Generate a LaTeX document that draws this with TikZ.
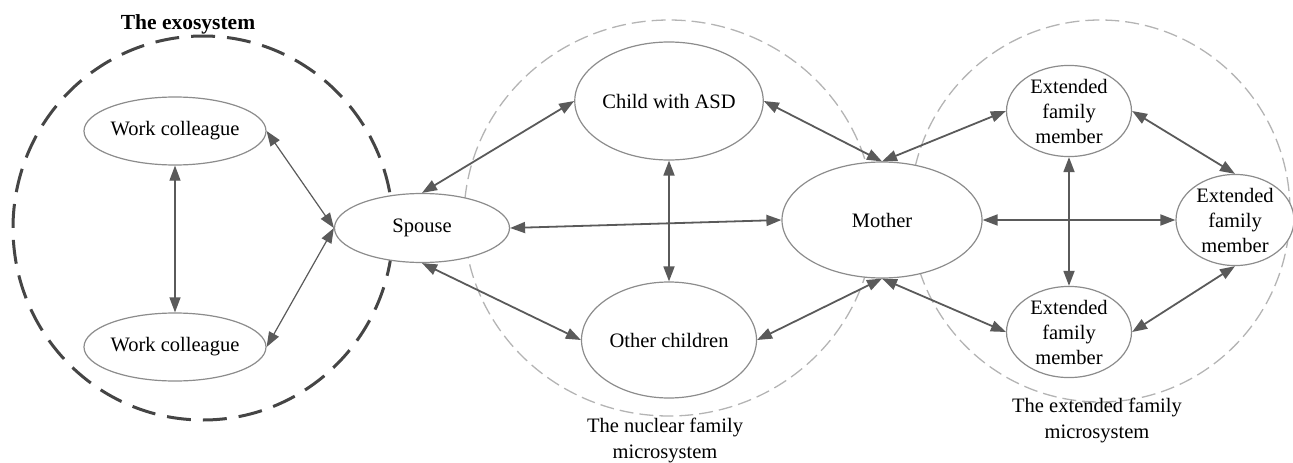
\documentclass[tikz,border=0pt]{standalone}
\usepackage{fontspec}
\setmainfont{Liberation Serif}
\usetikzlibrary{shapes.geometric,arrows.meta}

\definecolor{edgegray}{HTML}{5A5A5A}
\definecolor{ringgray}{HTML}{8C8C8C}
\definecolor{lightring}{HTML}{B4B4B4}
\definecolor{darkring}{HTML}{454545}

\tikzset{
  person/.style={ellipse, draw=ringgray, line width=1.2pt, fill=white,
    inner sep=0pt, align=center, font=\fontsize{20.5}{25}\selectfont},
  link/.style={edgegray, line width=1.8pt,
    {Triangle[length=15pt,width=11pt]}-{Triangle[length=15pt,width=11pt]}},
  thinlink/.style={edgegray, line width=1.2pt,
    {Triangle[length=15pt,width=11pt]}-{Triangle[length=15pt,width=11pt]}},
  systemring/.style={lightring, line width=1.3pt, dash pattern=on 14pt off 6pt},
  exoboundary/.style={darkring, line width=3pt, dash pattern=on 24pt off 12pt},
  caption/.style={align=center, font=\fontsize{20.5}{26}\selectfont}
}

\begin{document}
\begin{tikzpicture}[x=1pt,y=-1pt]
\useasboundingbox (0,0) rectangle (1293,463);

% system boundaries
\draw[exoboundary] (203,228) ellipse [x radius=190pt, y radius=192pt];
\draw[systemring] (669,218) ellipse [x radius=205pt, y radius=198pt];
\draw[systemring] (1100,211) ellipse [x radius=190pt, y radius=191pt];

% people
\node[person, minimum width=176pt, minimum height=68pt] (wc1) at (175,131) {Work colleague};
\node[person, minimum width=176pt, minimum height=68pt] (wc2) at (175,347) {Work colleague};
\node[person, minimum width=175pt, minimum height=69pt] (spouse) at (422,228) {Spouse};
\node[person, minimum width=175pt, minimum height=118pt] (child) at (669,101) {Child with ASD};
\node[person, minimum width=175pt, minimum height=116pt] (other) at (669,340) {Other children};
\node[person, minimum width=200pt, minimum height=116pt] (mother) at (882,220) {Mother};
\node[person, minimum width=125pt, minimum height=82pt] (ext1) at (1069,111) {Extended\\family\\member};
\node[person, minimum width=125pt, minimum height=80pt] (ext2) at (1069,332) {Extended\\family\\member};
\node[person, minimum width=118pt, minimum height=80pt] (ext3) at (1235,220) {Extended\\family\\member};

% captions
\node[font=\bfseries\fontsize{21.5}{26}\selectfont] (exo) at (188,24) {The exosystem};
\node[caption] (nuclear) at (665,440) {The nuclear family\\microsystem};
\node[caption] (extended) at (1097,420) {The extended family\\microsystem};

% relationships
\draw[thinlink] (wc1.south) -- (wc2.north);
\draw[thinlink] (wc1.east) -- (spouse.west);
\draw[thinlink] (wc2.east) -- (spouse.west);
\draw[link] (spouse.north) -- (child.west);
\draw[link] (spouse.south) -- (other.west);
\draw[link] (spouse.east) -- (mother.west);
\draw[link] (child.south) -- (other.north);
\draw[link] (mother.north) -- (child.east);
\draw[link] (mother.south) -- (other.east);
\draw[link] (mother.north) -- (ext1.west);
\draw[link] (mother.south) -- (ext2.west);
\draw[link] (mother.east) -- (ext3.west);
\draw[link] (ext1.south) -- (ext2.north);
\draw[link] (ext1.east) -- (ext3.north);
\draw[link] (ext2.east) -- (ext3.south);
\end{tikzpicture}
\end{document}
